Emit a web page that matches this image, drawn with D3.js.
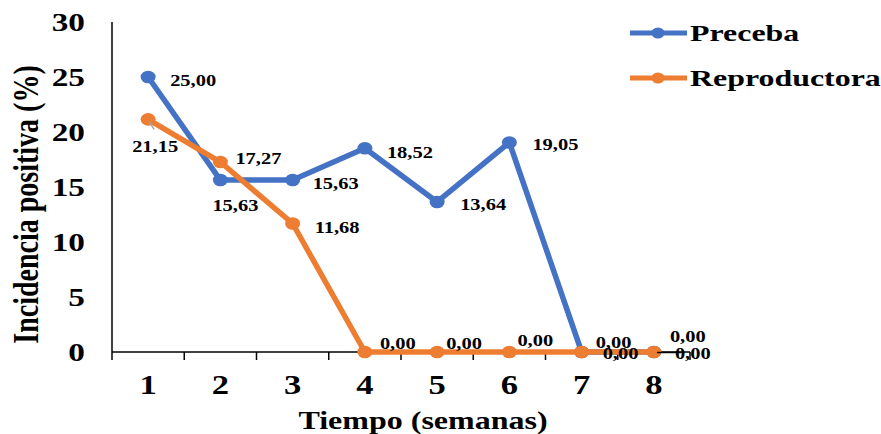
<!DOCTYPE html>
<html>
<head>
<meta charset="utf-8">
<script src="https://cdn.jsdelivr.net/npm/d3@7"></script>
<style>
  html, body { margin: 0; padding: 0; background: #ffffff; }
  svg { display: block; }
  text { font-family: "Liberation Serif", "Times New Roman", serif; font-weight: bold; fill: #000; }
</style>
</head>
<body>
<svg id="chart" width="881" height="434"></svg>
<script>
// Weekly positive incidence (%) by pig category
const weeks = ["1", "2", "3", "4", "5", "6", "7", "8"];
const precebaValues = [25.00, 15.63, 15.63, 18.52, 13.64, 19.05, 0.00, 0.00];
const reproductoraValues = [21.15, 17.27, 11.68, 0.00, 0.00, 0.00, 0.00, 0.00];
const yTicks = [0, 5, 10, 15, 20, 25, 30];
const seriesNames = ["Preceba", "Reproductora"];

// Label placement offsets (dx from point to label start, dy from point to label middle)
const precebaLabelOffsets = [[22, 3], [-8, 25], [20, 3], [22, 4], [23, 3], [23, 2.5], [14, -10], [16, -16]];
const reproductoraLabelOffsets = [[-16, 27], [15, -4], [22, 3.5], [15, -9], [9, -9], [8, -12], [21, 1], [21, 1]];

const colors = { Preceba: "#4472C4", Reproductora: "#ED7D31" };
const SX = 1.28; // horizontal widening of the type

const svg = d3.select("#chart");

const x = d3.scaleBand().domain(weeks).range([112, 690]).padding(0);
const y = d3.scaleLinear().domain([0, 30]).range([352, 22]);
const cx = d => x(d) + x.bandwidth() / 2;

const fmt = v => v.toFixed(2).replace(".", ",");

// Axes
const axes = svg.append("g");
axes.append("line")
  .attr("x1", 112).attr("x2", 112).attr("y1", y(30)).attr("y2", y(0))
  .attr("stroke", "#000").attr("stroke-width", 1.5);

const xAxis = d3.axisBottom(x).tickSize(0).tickFormat("");
const xg = svg.append("g").attr("transform", `translate(0,${y(0)})`).call(xAxis);
xg.select(".domain").attr("stroke", "#000").attr("stroke-width", 1.5).attr("d", `M112,0H690`);
// category boundary ticks
const bounds = weeks.map(w => x(w)).concat([x(weeks[weeks.length - 1]) + x.bandwidth()]);
xg.selectAll("line.bound").data(bounds).enter().append("line")
  .attr("class", "bound")
  .attr("x1", d => d).attr("x2", d => d).attr("y1", 0).attr("y2", 8)
  .attr("stroke", "#000").attr("stroke-width", 1.5);

// Y tick labels
svg.append("g").selectAll("text").data(yTicks).enter().append("text")
  .attr("transform", d => `translate(85,${y(d) + 9}) scale(${SX},1)`)
  .attr("text-anchor", "end")
  .style("font-size", "26px")
  .text(d => d);

// X tick labels
svg.append("g").selectAll("text").data(weeks).enter().append("text")
  .attr("transform", d => `translate(${cx(d)},394) scale(${SX},1)`)
  .attr("text-anchor", "middle")
  .style("font-size", "27px")
  .text(d => d);

// Axis titles
svg.append("text")
  .attr("transform", `translate(423,429) scale(${SX},1)`)
  .attr("text-anchor", "middle")
  .style("font-size", "25px")
  .text("Tiempo (semanas)");

svg.append("text")
  .attr("transform", `translate(38,204.5) scale(1.25,1) rotate(-90)`)
  .attr("text-anchor", "middle")
  .style("font-size", "28px")
  .text("Incidencia positiva (%)");

// Series
const line = d3.line().x(d => cx(d.week)).y(d => y(d.value));
const series = [
  { name: "Preceba", values: precebaValues, offsets: precebaLabelOffsets },
  { name: "Reproductora", values: reproductoraValues, offsets: reproductoraLabelOffsets }
];

series.forEach(s => {
  const pts = weeks.map((w, i) => ({ week: w, value: s.values[i] }));
  const g = svg.append("g");
  g.append("path").datum(pts)
    .attr("d", line)
    .attr("fill", "none")
    .attr("stroke", colors[s.name])
    .attr("stroke-width", 5.5)
    .attr("stroke-linejoin", "round");
  g.selectAll("ellipse").data(pts).enter().append("ellipse")
    .attr("cx", d => cx(d.week)).attr("cy", d => y(d.value))
    .attr("rx", 7.5).attr("ry", 6.3)
    .attr("fill", colors[s.name]);
});

// Leader lines for displaced labels
const r1 = { px: cx(weeks[0]), py: y(reproductoraValues[0]) };
svg.append("line")
  .attr("x1", r1.px + 1).attr("y1", r1.py + 2)
  .attr("x2", r1.px + 6).attr("y2", r1.py + 10)
  .attr("stroke", "#a6a6a6").attr("stroke-width", 1.5);
const r8 = { px: cx(weeks[7]), py: y(reproductoraValues[7]) };
svg.append("line")
  .attr("x1", r8.px + 3).attr("y1", r8.py + 0.5)
  .attr("x2", r8.px + 27).attr("y2", r8.py + 0.5)
  .attr("stroke", "#000").attr("stroke-width", 1.5);

// Data labels
series.forEach(s => {
  svg.append("g").selectAll("text").data(weeks).enter().append("text")
    .attr("transform", (w, i) => `translate(${cx(w) + s.offsets[i][0]},${y(s.values[i]) + s.offsets[i][1] + 5.5}) scale(${SX},1)`)
    .style("font-size", "16px")
    .text((w, i) => fmt(s.values[i]));
});

// Legend
const legend = svg.append("g");
seriesNames.forEach((name, i) => {
  const ly = 33 + i * 45;
  legend.append("line")
    .attr("x1", 630).attr("x2", 687).attr("y1", ly).attr("y2", ly)
    .attr("stroke", colors[name]).attr("stroke-width", 5);
  legend.append("ellipse")
    .attr("cx", 658).attr("cy", ly).attr("rx", 6.5).attr("ry", 5.5)
    .attr("fill", colors[name]);
  legend.append("text")
    .attr("transform", `translate(690,${ly + 8}) scale(1.33,1)`)
    .style("font-size", "24px")
    .text(name);
});
</script>
</body>
</html>
